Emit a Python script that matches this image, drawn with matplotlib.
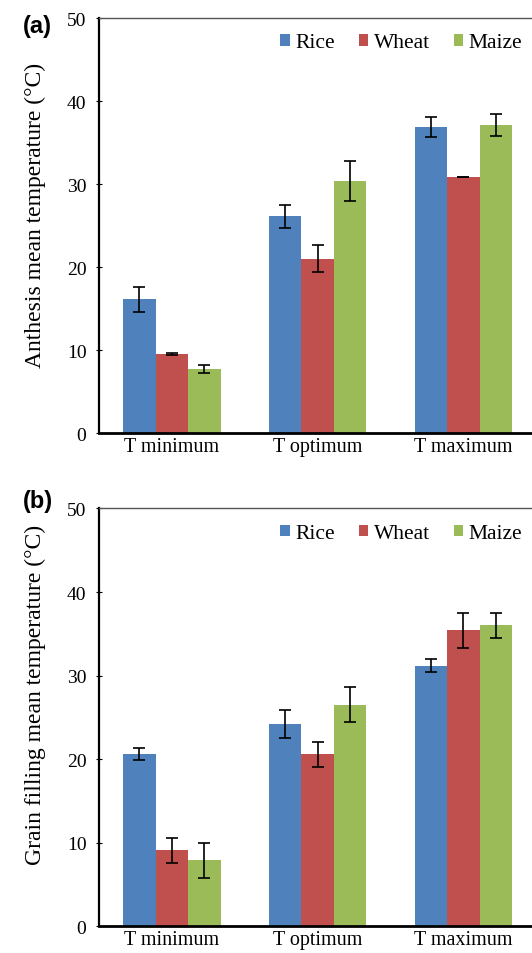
import numpy as np
import matplotlib
matplotlib.use("Agg")
import matplotlib.pyplot as plt

plt.rcParams['font.family'] = ['Liberation Serif', 'DejaVu Serif']

categories = ['T minimum', 'T optimum', 'T maximum']
crops = ['Rice', 'Wheat', 'Maize']
colors = ['#4F81BD', '#C0504D', '#9BBB59']

# (a) anthesis
anth_rice = [16.1, 26.1, 36.9]
anth_wheat = [9.5, 21.0, 30.8]
anth_maize = [7.7, 30.4, 37.1]
anth_rice_err = [1.5, 1.4, 1.2]
anth_wheat_err = [0.1, 1.6, 0.0]
anth_maize_err = [0.5, 2.4, 1.3]

# (b) grain filling
grain_rice = [20.6, 24.2, 31.2]
grain_wheat = [9.1, 20.6, 35.4]
grain_maize = [7.9, 26.5, 36.0]
grain_rice_err = [0.7, 1.7, 0.8]
grain_wheat_err = [1.5, 1.5, 2.1]
grain_maize_err = [2.1, 2.1, 1.5]

panels = [
    ('(a)', 'Anthesis mean temperature (°C)',
     [anth_rice, anth_wheat, anth_maize],
     [anth_rice_err, anth_wheat_err, anth_maize_err], 0.528, 0.982),
    ('(b)', 'Grain filling mean temperature (°C)',
     [grain_rice, grain_wheat, grain_maize],
     [grain_rice_err, grain_wheat_err, grain_maize_err], 0.555, 1.02),
]

fig = plt.figure(figsize=(5.32, 9.54), dpi=100)
positions = [[0.186, 0.545, 0.822, 0.435], [0.186, 0.028, 0.822, 0.438]]

x = np.arange(len(categories))
w = 0.223

for (tag, ylabel, vals, errs, ly, ty), pos in zip(panels, positions):
    ax = fig.add_axes(pos)
    for i in range(3):
        ax.bar(x + (i - 1) * w, vals[i], w, color=colors[i], label=crops[i],
               yerr=errs[i], capsize=4.5,
               error_kw=dict(ecolor='black', elinewidth=1.2, capthick=1.2))
    ax.set_xlim(-0.5, 2.5)
    ax.set_ylim(0, 50)
    ax.set_yticks([0, 10, 20, 30, 40, 50])
    ax.set_xticks(x)
    ax.set_xticklabels(categories, fontsize=14.5)
    ax.tick_params(axis='x', length=0, pad=3)
    ax.tick_params(axis='y', direction='inout', length=4, labelsize=14, pad=7)
    ax.spines['left'].set_linewidth(1.6)
    ax.spines['bottom'].set_linewidth(2.0)
    ax.spines['top'].set_linewidth(1.0)
    ax.spines['top'].set_color('#555555')
    ax.spines['right'].set_visible(False)
    ax.set_ylabel(ylabel, fontsize=17, va='center')
    ax.yaxis.set_label_coords(-0.146, ly)
    ax.legend(loc='center left', bbox_to_anchor=(0.415, 0.94), ncol=3,
              frameon=False, fontsize=15.5, handlelength=0.45, handleheight=0.45,
              handletextpad=0.25, columnspacing=1.1, borderaxespad=0,
              borderpad=0)
    ax.text(-0.14, ty, tag, transform=ax.transAxes, fontsize=17,
            fontweight='bold', family='Liberation Sans', ha='center', va='center')

fig.savefig('out.png', dpi=100)
